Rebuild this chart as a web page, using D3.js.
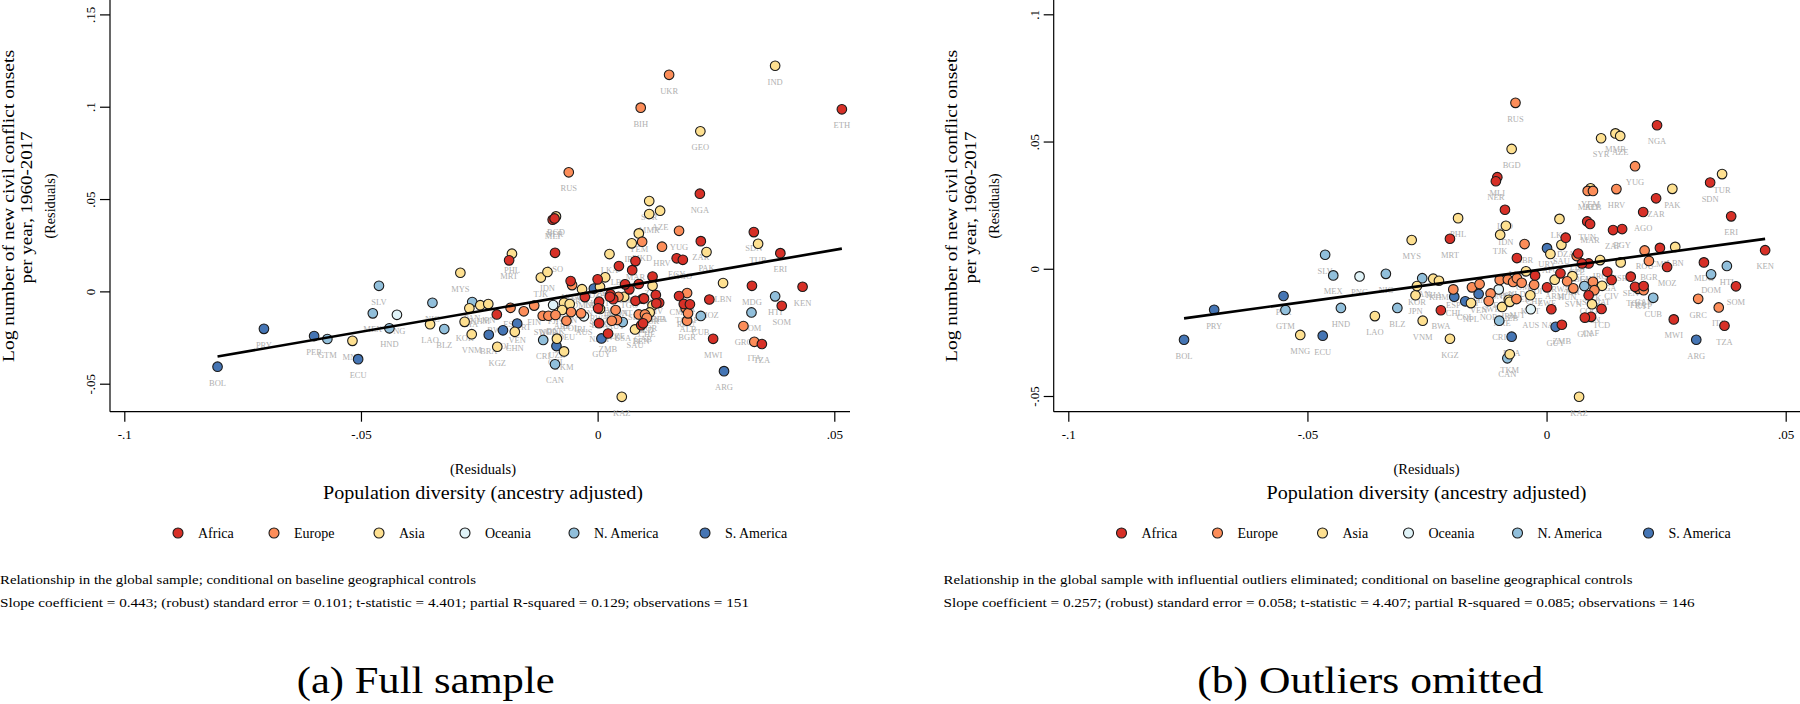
<!DOCTYPE html>
<html><head><meta charset="utf-8">
<script src="https://cdn.jsdelivr.net/npm/d3@7"></script>
<style>
body{margin:0;background:#fff}
svg{display:block}
text{font-family:"Liberation Serif","Times New Roman",serif}
</style>
</head><body>
<svg id="c" width="1800" height="704"></svg>
<script>
// ---------- categories & tick labels ----------
const regions = ["Africa","Europe","Asia","Oceania","N. America","S. America"];
const regionColors = ["#d73027","#fc8d59","#fee090","#e0f3f8","#91bfdb","#4575b4"];
const xTicks = [-0.1,-0.05,0,0.05];
const xTickLabels = ["-.1","-.05","0",".05"];
const yTicksA = [-0.05,0,0.05,0.1,0.15];
const yTickLabelsA = ["-.05","0",".05",".1",".15"];
const yTicksB = [-0.05,0,0.05,0.1];
const yTickLabelsB = ["-.05","0",".05",".1"];

// ---------- panel (a): full sample ----------
const codesA = ["BOL","PRY","PER","ECU","ARG","GUY","CHL","VEN","COL","BRA","URY",
 "GTM","SLV","MEX","HND","NIC","BLZ","PAN","CRI","CAN","USA","HTI","DOM","CUB",
 "PNG","FJI","AUS",
 "MNG","LAO","MYS","PHL","TJK","IDN","BGD","THA","KHM","JPN","KOR","VNM","KGZ","CHN","NPL","IRN","LKA","AFG","SYR","AZE","MMR","TKM","UZB","KAZ","YEM","IRQ","GEO","IND","PAK","TUR","LBN","ARM","ISR","JOR","SAU","OMN","KWT","BTN","ARE","QAT",
 "UKR","BIH","RUS","YUG","HRV","MKD","GBR","FRA","ESP","PRT","FIN","SWE","NOR","DNK","POL","DEU","ITA","GRC","ROU","BGR","ALB","HUN","AUT","CZE","SVK","BEL","NLD","CHE","IRL",
 "ETH","NGA","MLI","NER","SDN","ZAR","ERI","MRT","LSO","LBR","TUN","MAR","EGY","AGO","DZA","ZAF","UGA","SEN","KEN","SOM","TZA","MWI","MDG","MOZ","CMR","TCD","CAF","GHA","CIV","BFA","GIN","SLE","TGO","BEN","ZMB","BWA","NAM","ZWE","RWA","BDI","COG","GAB","GNB","GMB","SWZ","DJI"];
const regionA = [5,5,5,5,5,5,5,5,5,5,5,
 4,4,4,4,4,4,4,4,4,4,4,4,4,
 3,3,3,
 2,2,2,2,2,2,2,2,2,2,2,2,2,2,2,2,2,2,2,2,2,2,2,2,2,2,2,2,2,2,2,2,2,2,2,2,2,2,2,2,
 1,1,1,1,1,1,1,1,1,1,1,1,1,1,1,1,1,1,1,1,1,1,1,1,1,1,1,1,1,
 0,0,0,0,0,0,0,0,0,0,0,0,0,0,0,0,0,0,0,0,0,0,0,0,0,0,0,0,0,0,0,0,0,0,0,0,0,0,0,0,0,0,0,0,0,0];
const diversityA = [-0.0803,-0.0705,-0.0599,-0.0506,0.0267,0.0008,-0.0087,-0.0170,-0.0200,-0.0230,-0.0008,
 -0.0571,-0.0462,-0.0475,-0.0440,-0.0349,-0.0324,-0.0265,-0.0115,-0.0090,0.0053,0.0375,0.0325,0.0218,
 -0.0424,-0.0094,-0.0029,
 -0.0518,-0.0354,-0.0290,-0.0181,-0.0120,-0.0106,-0.0088,-0.0271,-0.0248,-0.0231,-0.0281,-0.0266,-0.0212,-0.0175,-0.0071,-0.0059,0.0025,0.0016,0.0109,0.0132,0.0109,-0.0071,-0.0086,0.0051,0.0087,0.0072,0.0217,0.0375,0.0230,0.0339,0.0265,0.0116,0.0116,0.0110,0.0079,-0.0033,0.0005,0.0005,-0.0075,0.0056,
 0.0151,0.0091,-0.0061,0.0172,0.0136,0.0094,-0.0054,0.0189,-0.0184,-0.0156,-0.0134,-0.0116,-0.0104,-0.0089,-0.0056,-0.0066,0.0331,0.0308,0.0186,0.0189,0.0191,0.0044,0.0038,0.0041,0.0030,0.0087,0.0100,0.0104,-0.0035,
 0.0516,0.0216,-0.0095,-0.0091,0.0330,0.0218,0.0386,-0.0187,-0.0090,0.0045,0.0073,0.0080,0.0167,0.0180,0.0000,0.0116,-0.0057,-0.0027,0.0433,0.0389,0.0347,0.0244,0.0326,0.0236,0.0172,0.0182,0.0195,0.0087,0.0123,0.0130,0.0095,0.0080,0.0067,0.0092,0.0022,-0.0213,0.0003,0.0027,0.0003,0.0033,0.0058,0.0096,0.0124,0.0098,0.0001,0.0026];
const conflictA = [-0.0408,-0.0203,-0.0242,-0.0367,-0.0432,-0.0255,-0.0296,-0.0174,-0.0211,-0.0235,0.0015,
 -0.0258,0.0030,-0.0119,-0.0200,-0.0062,-0.0204,-0.0058,-0.0263,-0.0395,-0.0166,-0.0027,-0.0114,-0.0133,
 -0.0127,-0.0074,-0.0135,
 -0.0268,-0.0178,0.0101,0.0204,0.0075,0.0105,0.0406,-0.0092,-0.0075,-0.0069,-0.0165,-0.0232,-0.0300,-0.0219,-0.0062,-0.0069,0.0202,0.0076,0.0489,0.0437,0.0419,-0.0325,-0.0256,-0.0571,0.0314,0.0260,0.0867,0.1222,0.0213,0.0258,0.0045,0.0030,-0.0076,-0.0114,-0.0206,0.0012,0.0025,-0.0095,-0.0101,-0.0029,
 0.1173,0.0995,0.0645,0.0328,0.0242,0.0269,0.0034,-0.0009,-0.0089,-0.0108,-0.0077,-0.0132,-0.0132,-0.0128,-0.0112,-0.0159,-0.0273,-0.0188,-0.0092,-0.0159,-0.0119,-0.0029,-0.0101,-0.0155,-0.0159,-0.0125,-0.0125,-0.0143,-0.0119,
 0.0986,0.0529,0.0388,0.0395,0.0321,0.0272,0.0207,0.0168,0.0209,0.0137,0.0115,0.0164,0.0179,0.0171,0.0065,0.0080,0.0056,-0.0031,0.0025,-0.0078,-0.0285,-0.0257,0.0030,-0.0044,-0.0025,-0.0068,-0.0070,0.0040,-0.0020,-0.0062,-0.0040,-0.0051,0.0011,-0.0183,-0.0228,-0.0125,-0.0172,-0.0016,-0.0056,-0.0042,0.0038,-0.0173,-0.0065,-0.0038,-0.0092,-0.0029];
const fitA = {slope:0.443, intercept:0.0003, from:-0.0803, to:0.0516};

// ---------- panel (b): outliers omitted ----------
const codesB = ["BOL","PRY","PER","ECU","CHL","COL","VEN","BRA","GUY","URY","ARG",
 "GTM","SLV","MEX","HND","NIC","BLZ","PAN","CRI","CAN","USA","CUB","DOM","HTI",
 "PNG","FJI","AUS",
 "MNG","LAO","MYS","PHL","THA","KHM","JPN","KOR","VNM","KGZ","NPL","IRN","ARE","UZB","BGD","IDN","TJK","OMN","KWT","LKA","SAU","AFG","ARM","JOR","SYR","MMR","AZE","YEM","PAK","TUR","LBN","ISR","IRQ","QAT","BTN","TKM","KAZ",
 "RUS","YUG","HRV","MKD","ALB","GBR","ROU","BGR","FRA","GRC","ITA","ESP","PRT","FIN","SWE","NOR","DNK","POL","DEU","NLD","BEL","AUT","CHE","HUN","CZE","SVK","IRL","CYP","SVN",
 "MLI","NER","NGA","SDN","ZAR","AGO","ERI","KEN","MRT","BWA","LSO","LBR","TUN","MAR","ZAF","EGY","DZA","LBY","CMR","MOZ","MDG","SOM","TZA","MWI","TGO","GAB","CAF","GIN","CIV","UGA","SEN","TCD","GHA","BFA","ZMB","NAM","ZWE","RWA","BDI","COG"];
const regionB = [5,5,5,5,5,5,5,5,5,5,5,
 4,4,4,4,4,4,4,4,4,4,4,4,4,
 3,3,3,
 2,2,2,2,2,2,2,2,2,2,2,2,2,2,2,2,2,2,2,2,2,2,2,2,2,2,2,2,2,2,2,2,2,2,2,2,2,
 1,1,1,1,1,1,1,1,1,1,1,1,1,1,1,1,1,1,1,1,1,1,1,1,1,1,1,1,1,
 0,0,0,0,0,0,0,0,0,0,0,0,0,0,0,0,0,0,0,0,0,0,0,0,0,0,0,0,0,0,0,0,0,0,0,0,0,0,0,0];
const diversityB = [-0.0758,-0.0695,-0.0550,-0.0468,-0.0193,-0.0170,-0.0142,-0.0073,0.0019,0.0001,0.0313,
 -0.0546,-0.0463,-0.0446,-0.0430,-0.0336,-0.0312,-0.0260,-0.0099,-0.0082,0.0079,0.0223,0.0344,0.0377,
 -0.0391,-0.0100,-0.0033,
 -0.0515,-0.0359,-0.0282,-0.0185,-0.0237,-0.0225,-0.0274,-0.0271,-0.0259,-0.0202,-0.0158,-0.0079,-0.0093,-0.0077,-0.0073,-0.0085,-0.0097,-0.0043,-0.0034,0.0027,0.0031,0.0008,0.0017,0.0054,0.0114,0.0144,0.0154,0.0092,0.0263,0.0367,0.0269,0.0155,0.0112,0.0116,0.0095,-0.0077,0.0068,
 -0.0065,0.0185,0.0146,0.0086,0.0097,-0.0046,0.0205,0.0214,0.0192,0.0317,0.0360,-0.0195,-0.0156,-0.0140,-0.0117,-0.0121,-0.0098,-0.0081,-0.0070,-0.0062,-0.0052,-0.0063,-0.0026,0.0043,0.0063,0.0097,0.0100,0.0203,0.0056,
 -0.0103,-0.0106,0.0231,0.0342,0.0229,0.0202,0.0386,0.0457,-0.0202,-0.0221,-0.0087,-0.0062,0.0085,0.0091,0.0139,0.0158,0.0040,0.0066,0.0237,0.0252,0.0329,0.0396,0.0372,0.0266,0.0185,0.0203,0.0093,0.0080,0.0136,0.0127,0.0176,0.0115,0.0088,0.0074,0.0032,0.0010,0.0001,0.0029,-0.0024,0.0088];
const conflictB = [-0.0279,-0.0161,-0.0107,-0.0263,-0.0110,-0.0128,-0.0099,-0.0267,-0.0228,0.0081,-0.0279,
 -0.0162,0.0055,-0.0026,-0.0154,-0.0020,-0.0154,-0.0037,-0.0204,-0.0352,-0.0068,-0.0114,-0.0022,0.0011,
 -0.0030,-0.0081,-0.0159,
 -0.0260,-0.0186,0.0113,0.0199,-0.0039,-0.0047,-0.0104,-0.0068,-0.0204,-0.0275,-0.0135,-0.0122,-0.0150,-0.0130,0.0471,0.0169,0.0134,-0.0010,-0.0104,0.0196,0.0094,0.0058,-0.0043,-0.0029,0.0513,0.0532,0.0522,0.0316,0.0314,0.0372,0.0086,0.0025,0.0034,-0.0067,-0.0139,-0.0336,-0.0503,
 0.0652,0.0403,0.0313,0.0306,0.0306,0.0097,0.0072,0.0031,-0.0079,-0.0118,-0.0152,-0.0081,-0.0073,-0.0060,-0.0097,-0.0127,-0.0044,-0.0042,-0.0052,-0.0037,-0.0055,-0.0119,-0.0063,-0.0049,0.0050,-0.0051,-0.0084,-0.0084,-0.0077,
 0.0360,0.0344,0.0564,0.0339,0.0277,0.0223,0.0206,0.0073,0.0118,-0.0163,0.0232,0.0042,0.0186,0.0176,0.0152,0.0156,0.0122,0.0060,0.0082,0.0007,0.0025,-0.0069,-0.0224,-0.0199,-0.0071,-0.0068,-0.0189,-0.0192,-0.0044,-0.0012,-0.0031,-0.0158,0.0021,0.0021,-0.0220,-0.0159,-0.0073,-0.0018,-0.0026,-0.0104];
const fitB = {slope:0.257, intercept:0.0000, from:-0.0758, to:0.0457};

const yTitle = ["Log number of new civil conflict onsets","per year, 1960-2017","(Residuals)"];
const xTitle = ["(Residuals)","Population diversity (ancestry adjusted)"];
const notesA = ["Relationship in the global sample; conditional on baseline geographical controls",
 "Slope coefficient = 0.443; (robust) standard error = 0.101; t-statistic = 4.401; partial R-squared = 0.129; observations = 151"];
const notesB = ["Relationship in the global sample with influential outliers eliminated; conditional on baseline geographical controls",
 "Slope coefficient = 0.257; (robust) standard error = 0.058; t-statistic = 4.407; partial R-squared = 0.085; observations = 146"];
const captionA = "(a) Full sample";
const captionB = "(b) Outliers omitted";

// ---------- drawing ----------
const svg = d3.select("#c");

function panel(o) {
  const g = svg.append("g").attr("transform", `translate(${o.dx},0)`);
  const x = d3.scaleLinear().domain([-0.1, 0.05]).range(o.xr);
  const y = d3.scaleLinear().domain(o.yd).range(o.yr);

  // axis lines
  g.append("line").attr("x1", o.axisX).attr("x2", o.axisX).attr("y1", 0).attr("y2", o.axisY)
    .attr("stroke", "#000").attr("stroke-width", 1.2);
  g.append("line").attr("x1", o.axisX).attr("x2", o.axisXEnd).attr("y1", o.axisY).attr("y2", o.axisY)
    .attr("stroke", "#000").attr("stroke-width", 1.2);

  // x axis
  const gx = g.append("g").attr("transform", `translate(0,${o.axisY})`)
    .call(d3.axisBottom(x).tickValues(xTicks).tickFormat((d, i) => xTickLabels[i]).tickSize(10).tickPadding(8));
  gx.select(".domain").remove();
  gx.selectAll(".tick line").attr("stroke", "#000").attr("stroke-width", 1.2);
  gx.selectAll(".tick text").attr("font-family", '"Liberation Serif",serif').attr("font-size", 13).attr("fill", "#000");

  // y axis
  const gy = g.append("g").attr("transform", `translate(${o.axisX},0)`)
    .call(d3.axisLeft(y).tickValues(o.yTicks).tickFormat((d, i) => o.yTickLabels[i]).tickSize(10));
  gy.select(".domain").remove();
  gy.selectAll(".tick line").attr("stroke", "#000").attr("stroke-width", 1.2);
  gy.selectAll(".tick text").attr("x", null).attr("dy", null).attr("text-anchor", "middle")
    .attr("transform", "translate(-15,0) rotate(-90)")
    .attr("font-family", '"Liberation Serif",serif').attr("font-size", 13).attr("fill", "#000");

  // y title
  const yMid = 206;
  g.append("text").attr("transform", `translate(13.5,${yMid}) rotate(-90)`).attr("text-anchor", "middle")
    .attr("font-size", 16.5).attr("textLength", 312).attr("lengthAdjust", "spacingAndGlyphs").text(yTitle[0]);
  g.append("text").attr("transform", `translate(32,${yMid + 1.5}) rotate(-90)`).attr("text-anchor", "middle")
    .attr("font-size", 16.5).attr("textLength", 152).attr("lengthAdjust", "spacingAndGlyphs").text(yTitle[1]);
  g.append("text").attr("transform", `translate(55,${yMid}) rotate(-90)`).attr("text-anchor", "middle")
    .attr("font-size", 14).attr("textLength", 65).attr("lengthAdjust", "spacingAndGlyphs").text(yTitle[2]);

  // x title
  g.append("text").attr("x", 483).attr("y", 473.5).attr("text-anchor", "middle")
    .attr("font-size", 14).attr("textLength", 66).attr("lengthAdjust", "spacingAndGlyphs").text(xTitle[0]);
  g.append("text").attr("x", 483).attr("y", 499).attr("text-anchor", "middle")
    .attr("font-size", 18).attr("textLength", 320).attr("lengthAdjust", "spacingAndGlyphs").text(xTitle[1]);

  // data
  const pts = o.codes.map((c, i) => ({c, r: o.region[i], x: o.xs[i], y: o.ys[i]}));
  g.append("g").selectAll("text").data(pts).join("text")
    .attr("x", d => x(d.x)).attr("y", d => y(d.y) + 19).attr("text-anchor", "middle")
    .attr("font-size", 8.5).attr("fill", "#b0b0b0").text(d => d.c);
  g.append("g").selectAll("circle").data(pts).join("circle")
    .attr("cx", d => x(d.x)).attr("cy", d => y(d.y)).attr("r", 4.8)
    .attr("fill", d => regionColors[d.r]).attr("stroke", "#1a1a1a").attr("stroke-width", 1.1);

  // fit line
  const f = o.fit;
  g.append("line").attr("x1", x(f.from)).attr("y1", y(f.slope * f.from + f.intercept))
    .attr("x2", x(f.to)).attr("y2", y(f.slope * f.to + f.intercept))
    .attr("stroke", "#000").attr("stroke-width", 2.6);

  // legend
  const legCircleX = [178, 274, 379, 465, 574, 705];
  const lg = g.append("g");
  regions.forEach((r, i) => {
    lg.append("circle").attr("cx", legCircleX[i]).attr("cy", 533).attr("r", 5)
      .attr("fill", regionColors[i]).attr("stroke", "#1a1a1a").attr("stroke-width", 1.1);
    lg.append("text").attr("x", legCircleX[i] + 20).attr("y", 538).attr("font-size", 14).text(r);
  });

  // notes
  g.append("text").attr("x", o.noteX).attr("y", 584).attr("font-size", 12.5)
    .attr("textLength", o.noteW[0]).attr("lengthAdjust", "spacingAndGlyphs").text(o.notes[0]);
  g.append("text").attr("x", o.noteX).attr("y", 606.5).attr("font-size", 12.5)
    .attr("textLength", o.noteW[1]).attr("lengthAdjust", "spacingAndGlyphs").text(o.notes[1]);
}

panel({dx: 0, axisX: 110, axisY: 411.7, axisXEnd: 850, xr: [124.3, 834.3],
  yd: [-0.05, 0.15], yr: [383.7, 14.4], yTicks: yTicksA, yTickLabels: yTickLabelsA,
  codes: codesA, region: regionA, xs: diversityA, ys: conflictA, fit: fitA,
  notes: notesA, noteX: 0, noteW: [476, 749]});
panel({dx: 943.5, axisX: 110.2, axisY: 411.7, axisXEnd: 860, xr: [124.8, 842.2],
  yd: [-0.05, 0.1], yr: [396, 14.3], yTicks: yTicksB, yTickLabels: yTickLabelsB,
  codes: codesB, region: regionB, xs: diversityB, ys: conflictB, fit: fitB,
  notes: notesB, noteX: 0, noteW: [689, 751]});

// captions
svg.append("text").attr("x", 296.7).attr("y", 693).attr("font-size", 38)
  .attr("textLength", 258).attr("lengthAdjust", "spacingAndGlyphs").text(captionA);
svg.append("text").attr("x", 1197.3).attr("y", 693).attr("font-size", 38)
  .attr("textLength", 346).attr("lengthAdjust", "spacingAndGlyphs").text(captionB);
</script>
</body></html>
